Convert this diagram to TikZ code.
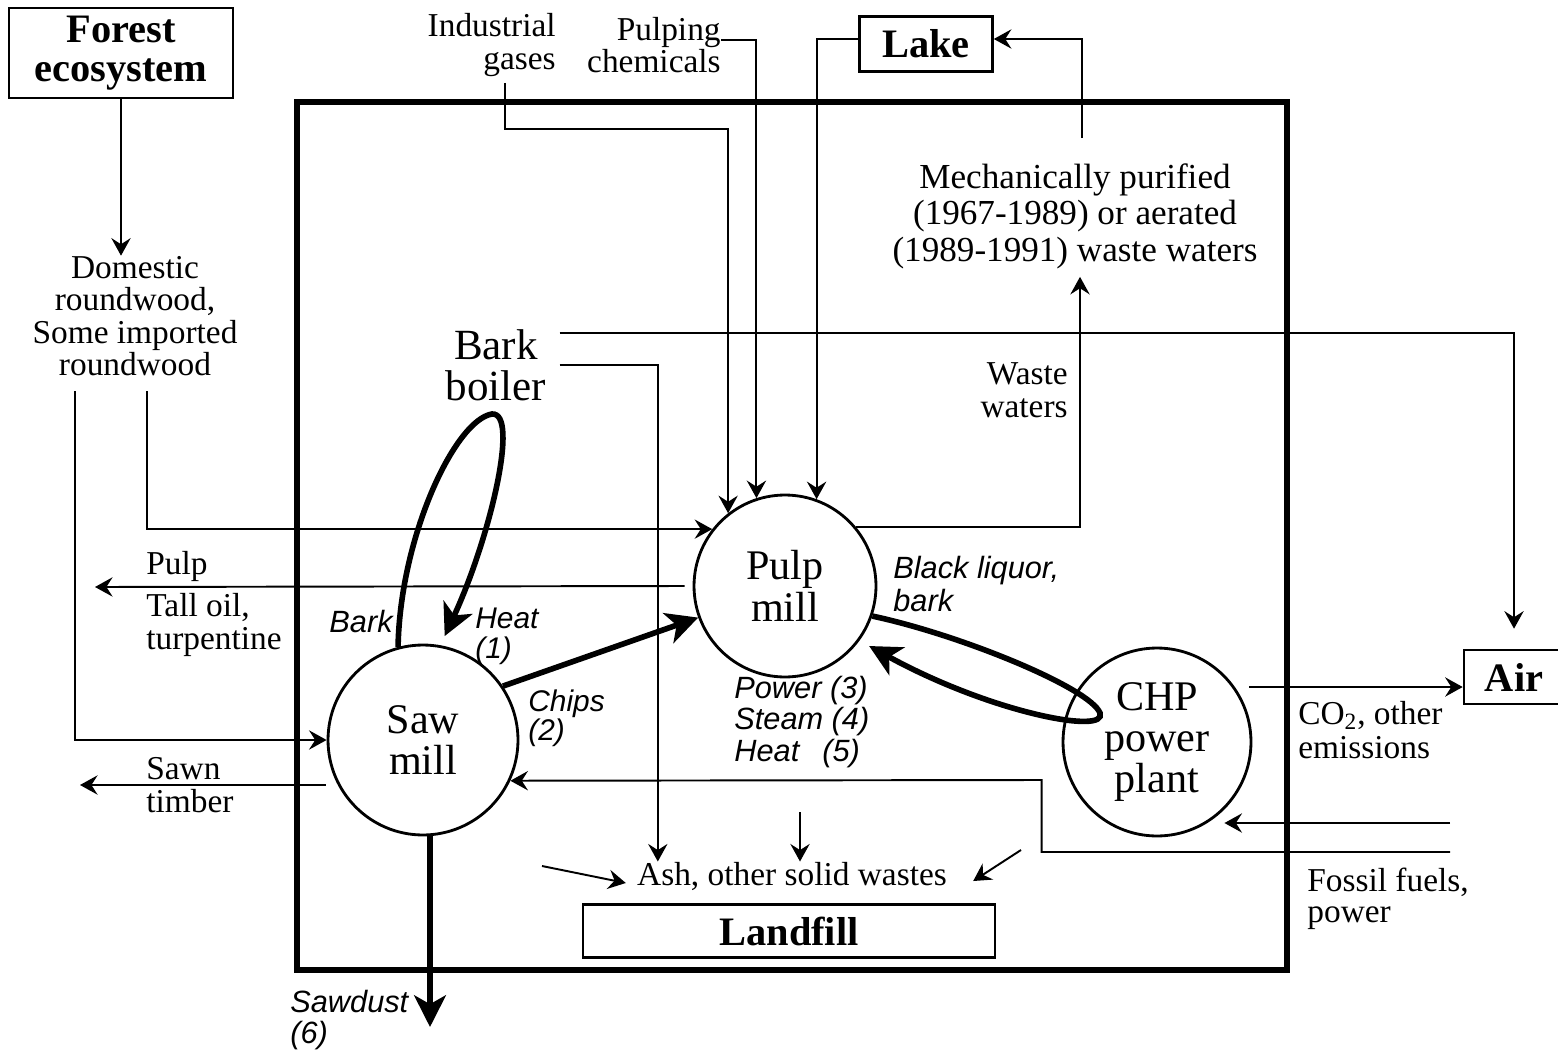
\documentclass[tikz,border=0pt]{standalone}
\usepackage{fontspec}
\setmainfont{Liberation Serif}
\setsansfont{Liberation Sans}
\usepackage{tikz}
\usetikzlibrary{positioning,calc,arrows.meta}

\begin{document}
\begin{tikzpicture}[
	x=0.02cm, y=-0.02cm,
	>={Stealth[length=10pt,width=11pt,inset=3.5pt]},
	every node/.style={
		text centered
	},
	flow/.style={
		line width=1.1pt,
		->
	},
	bigflow/.style={
		line width=3.2pt,
		-{Stealth[length=18pt,width=18pt,inset=5pt]}
	},
	txt/.style={
		inner sep=0pt,
		align=center,
		font=\fontsize{19}{18.5}\selectfont
	},
	flowlabel/.style={
		inner sep=0pt,
		align=left,
		font=\sffamily\itshape\fontsize{17.5}{18}\selectfont
	},
	place/.style={
		rectangle,
		draw,
		line width=1.5pt,
		inner sep=0pt,
		align=center,
		font=\bfseries\fontsize{23}{22}\selectfont
	},
	plant/.style={
		circle,
		draw,
		line width=1.6pt,
		inner sep=0pt,
		align=center,
		font=\fontsize{24}{23.5}\selectfont
	}
]
  \useasboundingbox (0,0) rectangle (1558,1051);

  % system boundary
  \draw[line width=3.4pt] (297,102) rectangle (1287,970);

  % places outside the mills
  \node (Forest) [place, minimum width=4.48cm, minimum height=1.8cm] at (121,53) {Forest\\ecosystem};
  \node (Lake) [place, minimum width=2.66cm, minimum height=1.1cm] at (926,44) {Lake};
  \node (Air) [place, minimum width=2cm, minimum height=1.08cm] at (1514,677) {Air};
  \node (Landfill) [place, minimum width=8.24cm, minimum height=1.06cm] at (789,931) {Landfill};

  % plants
  \node (SawMill) [plant, minimum size=3.8cm] at (423,740) {Saw\\mill};
  \node (PulpMill) [plant, minimum size=3.64cm] at (785,586) {Pulp\\mill};
  \node (CHP) [plant, minimum size=3.76cm] at (1157,742) {CHP\\power\\plant};
  \node (BarkBoiler) [txt, font=\fontsize{24.5}{23.5}\selectfont] at (496,365) {Bark\\boiler};

  % flow texts
  \node (Wood) [txt] at (135,316) {Domestic\\roundwood,\\Some imported\\roundwood};
  \node (IndGas) [txt, anchor=east, align=right] at (556,45) {Industrial\\gases};
  \node (PulpChem) [txt, anchor=east, align=right] at (721,45) {Pulping\\chemicals};
  \node (MechPur) [txt, font=\fontsize{20}{20.7}\selectfont] at (1075,216) {Mechanically purified\\(1967-1989) or aerated\\(1989-1991) waste waters};
  \node (WasteW) [txt, anchor=east, align=right] at (1068,390) {Waste\\waters};
  \node (PulpLbl) [txt, anchor=west] at (146,566) {Pulp};
  \node (TallOil) [txt, anchor=west, align=left] at (146,625) {Tall oil,\\turpentine};
  \node (Sawn) [txt, anchor=west, align=left] at (146,785) {Sawn\\timber};
  \node (Emis) [txt, anchor=west, align=left, font=\fontsize{19}{19}\selectfont] at (1298,730) {CO\smash{\textsubscript{2}}, other\\emissions};
  \node (Fossil) [txt, anchor=west, align=left, font=\fontsize{19}{17.5}\selectfont] at (1307,899) {Fossil fuels,\\power};
  \node (Ash) [txt] at (792,876) {Ash, other solid wastes};

  \node (BarkLbl) [flowlabel, anchor=east] at (393,622) {Bark};
  \node (HeatLbl) [flowlabel, anchor=west, font=\sffamily\itshape\fontsize{17}{17}\selectfont] at (475,636) {Heat\\(1)};
  \node (ChipsLbl) [flowlabel, anchor=west, font=\sffamily\itshape\fontsize{17}{16.5}\selectfont] at (528,718) {Chips\\(2)};
  \node (LiquorLbl) [flowlabel, anchor=west, font=\sffamily\itshape\fontsize{17.5}{19.3}\selectfont] at (893,584) {Black liquor,\\bark};
  \node (EnergyLbl) [flowlabel, anchor=west] at (734,722) {Power (3)\\Steam (4)\\Heat\hspace{0.75em}(5)};
  \node (SawdustLbl) [flowlabel, anchor=west, font=\sffamily\itshape\fontsize{17.5}{17.5}\selectfont] at (290,1020) {Sawdust\\(6)};

  % free ends
  \coordinate (PulpOut) at (95,587);
  \coordinate (SawnOut) at (80,785);
  \coordinate (SawdustOut) at (430,1027);
  \coordinate (FossilIn) at (1450,823);
  \coordinate (FossilOut) at (1450,852);
  \coordinate (AshFromLeft) at (542,866);
  \coordinate (AshFromTop) at (800,812);
  \coordinate (AshFromRight) at (1021,850);
  \coordinate (BarkLoop) at (492,414);
  \coordinate (CHPLoop) at (1100,713);

  % thin flows
  \draw[flow] (Forest) -- (Forest.south |- Wood.north);
  \draw[flow] ($(Wood.south)+(-60,15)$) |- (SawMill);
  \draw[flow] ($(Wood.south)+(12,15)$) |- (PulpMill.142);
  \draw[flow] ($(IndGas.south)+(13,6)$) -- ++(0,46) -| (PulpMill.128);
  \draw[flow] ($(PulpChem.east)+(0,-5)$) -| (PulpMill.108);
  \draw[flow] ($(Lake.west)+(0,-5)$) -| (PulpMill.70);
  \draw[flow] ($(MechPur.north)+(7,-25)$) |- ($(Lake.east)+(0,-5)$);
  \draw[flow] (PulpMill.40) -| ($(MechPur.south)+(5,8)$);
  \draw[flow, shorten >=0.4cm] ($(BarkBoiler.east)+(13,-32)$) -| (Air.north);
  \draw[flow] ($(BarkBoiler.east)+(13,0)$) -| ($(Ash.north west)+(21,0)$);
  \draw[flow] ($(PulpMill.west)+(-8,0)$) -- (PulpOut);
  \draw[flow] ($(SawMill.west |- SawnOut)+(-1,0)$) -- (SawnOut);
  \draw[flow] ($(CHP.east |- Air.west)+(-3,10)$) -- ($(Air.west)+(0,10)$);
  \draw[flow] (FossilIn) -- (FossilIn -| CHP.south east);
  \draw[flow] (FossilOut) -| ($(CHP.west)+(-20,38)$) -- (SawMill.-25);
  \draw[flow] (AshFromLeft) -- ($(Ash.west)+(-11,7)$);
  \draw[flow] (AshFromTop) -- (Ash.north -| AshFromTop);
  \draw[flow] (AshFromRight) -- ($(Ash.east)+(26,5)$);

  % main material and energy flows
  \draw[bigflow] (SawMill.34) -- (PulpMill.200);
  \draw[bigflow] (SawMill.south -| SawdustOut) -- (SawdustOut);
  \draw[bigflow] (SawMill.105) .. controls +(2,-110) and +(-37,6) .. (BarkLoop)
    .. controls +(28,-2) and +(45,-97) .. ([yshift=5.7pt]SawMill.77);
  \draw[bigflow] (PulpMill.-19) .. controls +(89,19) and +(-10,-25) .. (CHPLoop)
    .. controls +(8,22) and +(122,67) .. ([xshift=4.8pt,yshift=-4pt]PulpMill.-35);
\end{tikzpicture}
\end{document}
